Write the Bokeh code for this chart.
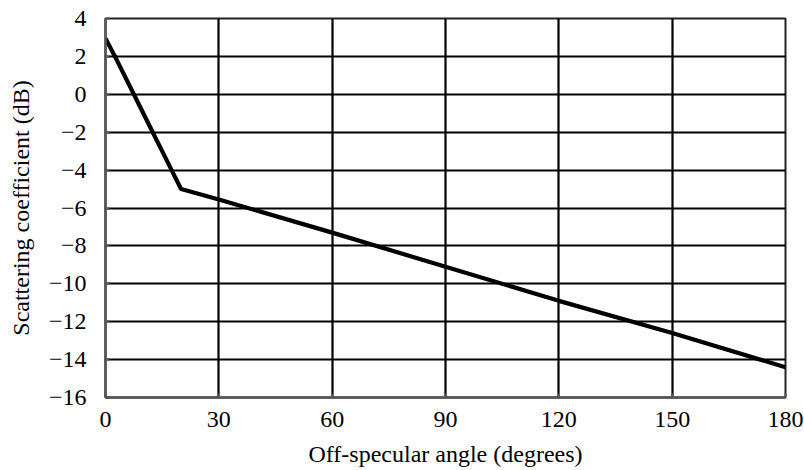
from bokeh.plotting import figure
from bokeh.embed import file_html
from bokeh.resources import INLINE
from bokeh.models import FixedTicker, Range1d

# Data
angle_deg = [0, 2.5, 7.5, 12.5, 15, 17.5, 20, 30, 60, 90, 120, 150, 180]
scatter_db = [2.95, 2.0, 0.0, -2.0, -3.0, -4.0, -5.0, -5.55, -7.3, -9.1, -10.9, -12.6, -14.4]

x_ticks = [0, 30, 60, 90, 120, 150, 180]
x_tick_labels = ["0", "30", "60", "90", "120", "150", "180"]
y_ticks = [-16, -14, -12, -10, -8, -6, -4, -2, 0, 2, 4]
y_tick_labels = ["\u221216", "\u221214", "\u221212", "\u221210", "\u22128", "\u22126",
                 "\u22124", "\u22122", "0", "2", "4"]

FONT = "Liberation Serif"

p = figure(width=804, height=470, output_backend="svg", toolbar_location=None,
           x_range=Range1d(0, 180), y_range=Range1d(-16, 4),
           min_border_left=105, min_border_right=19, min_border_top=18, min_border_bottom=73)
p.background_fill_color = "white"
p.border_fill_color = "white"
p.outline_line_color = "#222222"
p.outline_line_width = 2

p.line(angle_deg, scatter_db, line_color="black", line_width=4.2)

p.xaxis.ticker = FixedTicker(ticks=x_ticks)
p.yaxis.ticker = FixedTicker(ticks=y_ticks)
p.xaxis.major_label_overrides = {t: l for t, l in zip(x_ticks, x_tick_labels)}
p.yaxis.major_label_overrides = {t: l for t, l in zip(y_ticks, y_tick_labels)}

for ax in (p.xaxis, p.yaxis):
    ax.axis_line_color = "#555555"
    ax.axis_line_width = 2.5
    ax.major_tick_in = 4
    ax.major_tick_out = 0
    ax.major_tick_line_color = "#555555"
    ax.major_tick_line_width = 2
    ax.minor_tick_line_color = None
    ax.major_label_text_font = FONT
    ax.major_label_text_font_size = "24px"
    ax.major_label_text_color = "black"
    ax.axis_label_text_font = FONT
    ax.axis_label_text_font_size = "24px"
    ax.axis_label_text_font_style = "normal"
    ax.axis_label_text_color = "black"

p.xaxis.axis_label = "Off-specular angle (degrees)"
p.yaxis.axis_label = "Scattering coefficient (dB)"
p.xaxis.major_label_standoff = 14
p.xaxis.axis_label_standoff = 11
p.yaxis.major_label_standoff = 19
p.yaxis.axis_label_standoff = 12

p.xgrid.grid_line_color = "black"
p.ygrid.grid_line_color = "black"
p.xgrid.grid_line_width = 2.2
p.ygrid.grid_line_width = 2.2

open("out.html", "w").write(file_html(p, INLINE))
